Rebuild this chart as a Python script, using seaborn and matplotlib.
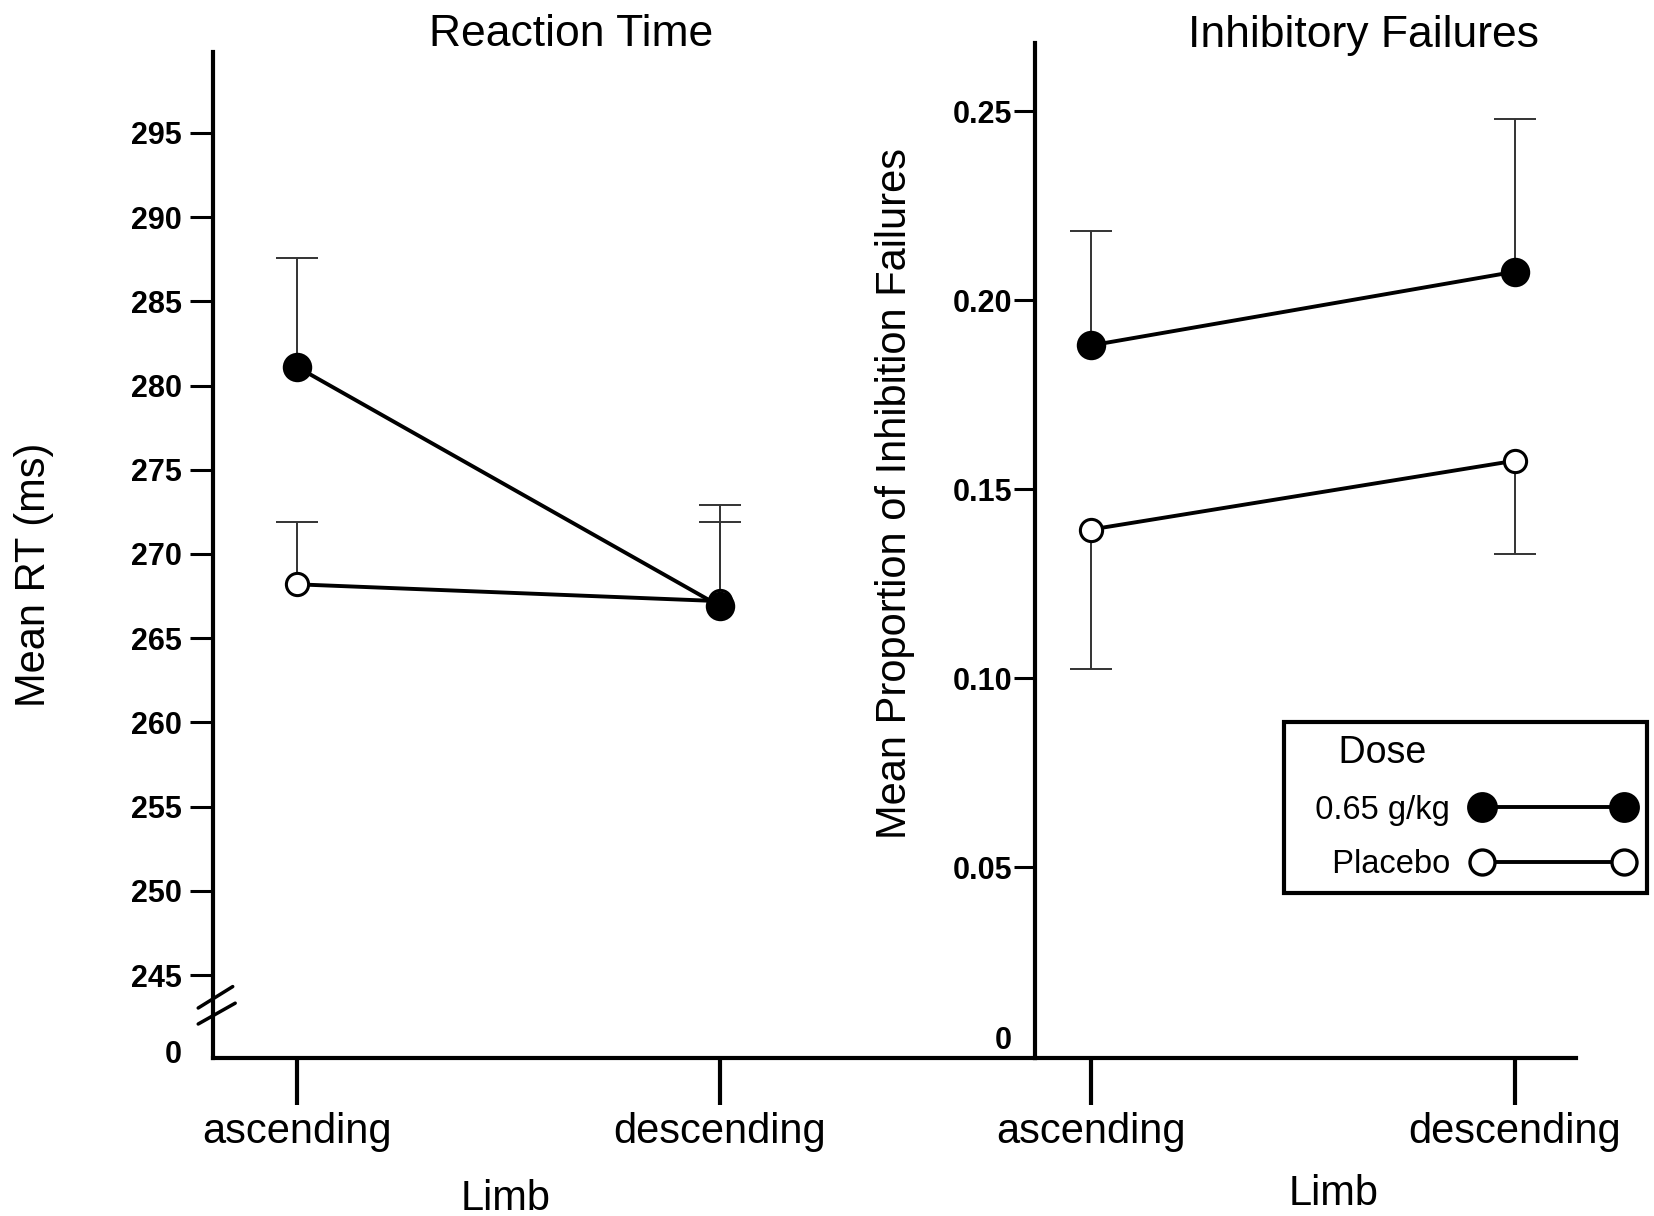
import numpy as np
import pandas as pd
import seaborn as sns
import matplotlib.pyplot as plt
from matplotlib.lines import Line2D

# --- dados ---
limbs = ['ascending', 'descending']
doses = ['0.65 g/kg', 'Placebo']

# Reaction Time (ms), erro para cima
rt_alcohol = [281.1, 266.9]
rt_alcohol_err = [6.5, 6.0]
rt_placebo = [268.2, 267.2]
rt_placebo_err = [3.7, 4.7]

# Inhibitory Failures (proporcao)
fail_alcohol = [0.188, 0.2075]
fail_alcohol_err = [0.0303, 0.0405]   # para cima
fail_placebo = [0.1393, 0.1575]
fail_placebo_err = [0.0369, 0.0246]   # para baixo

rt_ticks = [245, 250, 255, 260, 265, 270, 275, 280, 285, 290, 295]
fail_ticks = [0.05, 0.10, 0.15, 0.20, 0.25]

sns.set_style("ticks")
plt.rcParams['font.family'] = ['Liberation Sans', 'DejaVu Sans']
for k in ['text.color', 'axes.labelcolor', 'xtick.color', 'ytick.color', 'axes.edgecolor']:
    plt.rcParams[k] = 'black'

W, H = 1654, 1216
fig = plt.figure(figsize=(W / 100, H / 100), dpi=100)
ax1 = fig.add_axes([213 / W, 1 - 1058 / H, (1035 - 213) / W, (1058 - 52) / H])
ax2 = fig.add_axes([1035 / W, 1 - 1058 / H, (1576 - 1035) / W, (1058 - 43) / H])
ax1.patch.set_alpha(0)
ax2.patch.set_alpha(0)

line_kws = dict(color='black', linewidth=2.8, markeredgewidth=2.2, errorbar=None)
err_kws = dict(fmt='none', ecolor='#333333', elinewidth=1.4, capsize=15, capthick=1.4, zorder=1)


def one_sided(ax, y, err, up=True):
    # barra de erro so de um lado (cap so na ponta)
    yerr = [[0, 0], err] if up else [err, [0, 0]]
    cont = ax.errorbar([0, 1], y, yerr=yerr, **err_kws)
    caps = cont[1]
    caps[0 if up else 1].set_visible(False)


# --- A. Reaction Time ---
one_sided(ax1, rt_placebo, rt_placebo_err, up=True)
one_sided(ax1, rt_alcohol, rt_alcohol_err, up=True)
sns.pointplot(x=limbs, y=rt_placebo, markersize=16, markerfacecolor='white', ax=ax1, **line_kws)
sns.pointplot(x=limbs, y=rt_alcohol, markersize=19, markerfacecolor='black', ax=ax1, **line_kws)

ax1.set_xlim(-0.199, 1.745)
ax1.set_ylim(240.08, 299.8)
ax1.set_yticks(rt_ticks + [240.45])
ax1.set_yticklabels([str(t) for t in rt_ticks] + ['0'])
ax1.yaxis.get_major_ticks()[-1].tick1line.set_visible(False)
ax1.tick_params(axis='y', length=16.5, width=2.2, labelsize=22, pad=6)

# marca de quebra do eixo
for (x0, y0, x1, y1) in [(-0.018, 0.0497, 0.024, 0.0710), (-0.018, 0.0338, 0.027, 0.0545)]:
    ax1.plot([x0, x1], [y0, y1], color='black', lw=2.5, transform=ax1.transAxes, clip_on=False, zorder=5)

# --- B. Inhibitory Failures ---
one_sided(ax2, fail_placebo, fail_placebo_err, up=False)
one_sided(ax2, fail_alcohol, fail_alcohol_err, up=True)
sns.pointplot(x=limbs, y=fail_placebo, markersize=16, markerfacecolor='white', ax=ax2, **line_kws)
sns.pointplot(x=limbs, y=fail_alcohol, markersize=19, markerfacecolor='black', ax=ax2, **line_kws)

ax2.set_xlim(-0.132, 1.144)
ax2.set_ylim(-0.0005, 0.268)
ax2.set_yticks(fail_ticks + [0.005])
ax2.set_yticklabels(['%.2f' % t for t in fail_ticks] + ['0'])
ax2.yaxis.get_major_ticks()[-1].tick1line.set_visible(False)
ax2.tick_params(axis='y', length=15, width=2.2, labelsize=22, pad=1.5)

for ax in (ax1, ax2):
    ax.spines['top'].set_visible(False)
    ax.spines['right'].set_visible(False)
    ax.spines['left'].set_linewidth(3)
    ax.spines['bottom'].set_linewidth(3)
    ax.set_xticks([0, 1])
    ax.set_xticklabels(limbs)
    ax.tick_params(axis='x', length=34, width=3, labelsize=30, pad=5)
    for lbl in ax.get_yticklabels():
        lbl.set_fontweight('bold')
    ax.grid(False)

ax1.set_ylabel('Mean RT (ms)', fontsize=30)
ax1.yaxis.set_label_coords(-0.193, 0.480)
ax2.set_ylabel('Mean Proportion of Inhibition Failures', fontsize=30)
ax2.yaxis.set_label_coords(-0.222, 0.556)

ax1.set_xlabel('Limb', fontsize=30)
ax1.xaxis.set_label_coords(0.3565, -0.120)
ax2.set_xlabel('Limb', fontsize=30)
ax2.xaxis.set_label_coords(0.5527, -0.114)

fig.text(571 / W, 1 - 34 / H, 'Reaction Time', fontsize=32, ha='center', va='center')
fig.text(1363 / W, 1 - 35 / H, 'Inhibitory Failures', fontsize=32, ha='center', va='center')

# legenda (espacos no inicio so para afastar o texto da moldura)
handles = [Line2D([], [], color='black', lw=2.8, marker='o', markersize=20, markerfacecolor='black', markeredgewidth=2.2),
           Line2D([], [], color='black', lw=2.8, marker='o', markersize=18, markerfacecolor='white', markeredgewidth=2.4)]
leg = ax2.legend(handles, ['  ' + d for d in doses], title='    Dose', loc='upper left',
                 bbox_to_anchor=(1284 / W, 1 - 722 / H), bbox_transform=fig.transFigure,
                 numpoints=2, markerfirst=False, frameon=True, fancybox=False,
                 edgecolor='black', framealpha=1, fontsize=23.5, title_fontsize=27,
                 handlelength=4.95, handletextpad=0.68, labelspacing=0.72,
                 borderpad=0.4, borderaxespad=0)
leg.get_frame().set_linewidth(3)
leg._legend_box.align = 'left'

fig.savefig('out.png', dpi=100)
